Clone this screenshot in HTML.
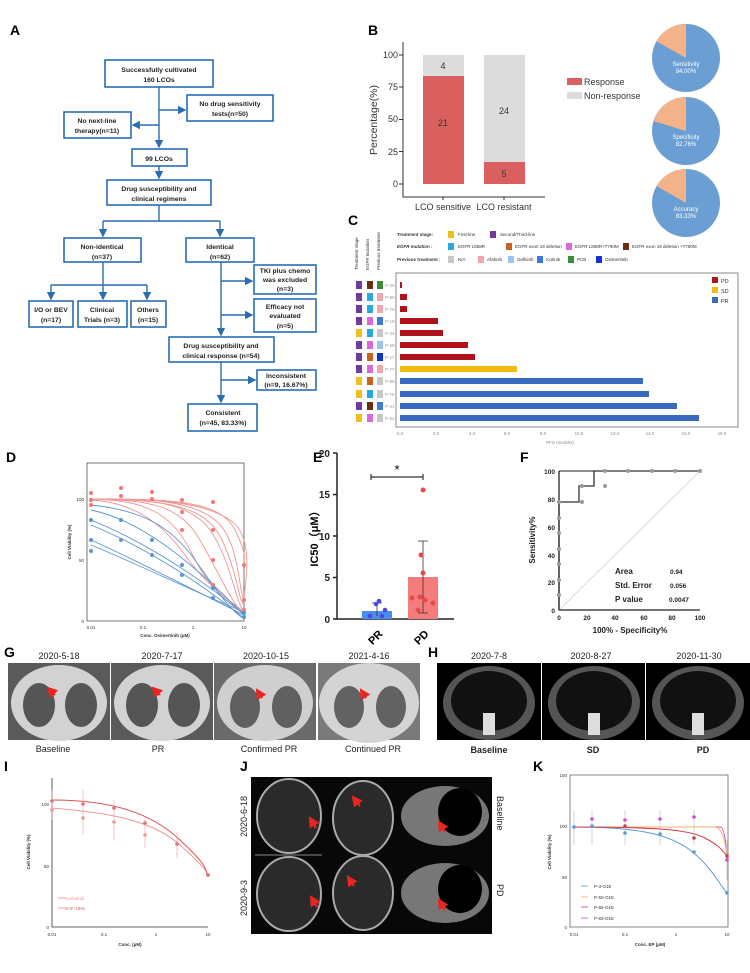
<!DOCTYPE html>
<html><head><meta charset="utf-8"><style>
body{margin:0;background:#fff}
svg{display:block;font-family:"Liberation Sans",Arial,sans-serif}
</style></head><body>
<svg width="750" height="973" viewBox="0 0 750 973" xmlns="http://www.w3.org/2000/svg">
<defs>
<marker id="ar" markerWidth="6" markerHeight="6" refX="5" refY="3" orient="auto"><path d="M0,0L6,3L0,6z" fill="#2a6db3"/></marker>
<marker id="ra" markerWidth="5" markerHeight="5" refX="4" refY="2.5" orient="auto"><path d="M0,0L5,2.5L0,5z" fill="#e8261f"/></marker>
</defs>
<g font-weight="bold" font-size="14">
<text x="10" y="35">A</text><text x="368" y="35">B</text><text x="348" y="225">C</text>
<text x="6" y="462">D</text><text x="313" y="462">E</text><text x="520" y="462">F</text>
<text x="4" y="657">G</text><text x="428" y="657">H</text>
<text x="4" y="771">I</text><text x="240" y="771">J</text><text x="533" y="771">K</text>
</g>

<!-- A flowchart -->
<g fill="#fff" stroke="#2a6db3" stroke-width="1.6">
<rect x="105" y="60" width="108" height="27"/><rect x="187" y="95" width="86" height="26"/>
<rect x="64" y="112" width="67" height="26"/><rect x="132" y="149" width="55" height="17"/>
<rect x="107" y="180" width="104" height="25"/><rect x="64" y="238" width="77" height="24"/>
<rect x="186" y="238" width="68" height="24"/><rect x="254" y="265" width="62" height="29"/>
<rect x="29" y="301" width="44" height="26"/><rect x="78" y="301" width="49" height="26"/>
<rect x="131" y="301" width="35" height="26"/><rect x="254" y="299" width="62" height="33"/>
<rect x="169" y="337" width="105" height="25"/><rect x="257" y="370" width="59" height="20"/>
<rect x="188" y="404" width="69" height="27"/>
</g>
<g stroke="#2a6db3" stroke-width="1.4" fill="none">
<path d="M159 87V147" marker-end="url(#ar)"/><path d="M159 110H185" marker-end="url(#ar)"/><path d="M159 125H133" marker-end="url(#ar)"/>
<path d="M159 166V178" marker-end="url(#ar)"/><path d="M159 205V221"/><path d="M103 221H220"/>
<path d="M103 221V236" marker-end="url(#ar)"/><path d="M220 221V236" marker-end="url(#ar)"/>
<path d="M103 262V285"/><path d="M51 285H147"/><path d="M51 285V299" marker-end="url(#ar)"/><path d="M103 285V299" marker-end="url(#ar)"/><path d="M147 285V299" marker-end="url(#ar)"/>
<path d="M221 262V335" marker-end="url(#ar)"/><path d="M221 281H252" marker-end="url(#ar)"/><path d="M221 315H252" marker-end="url(#ar)"/>
<path d="M221 362V402" marker-end="url(#ar)"/><path d="M221 380H255" marker-end="url(#ar)"/>
</g>
<g font-size="6.8" font-weight="bold" text-anchor="middle" fill="#222">
<text x="159" y="72">Successfully cultivated</text><text x="159" y="82">160 LCOs</text>
<text x="230" y="106">No drug sensitivity</text><text x="230" y="116">tests(n=50)</text>
<text x="97" y="123">No next-line</text><text x="97" y="133">therapy(n=11)</text>
<text x="159" y="161">99 LCOs</text>
<text x="159" y="191">Drug susceptibility and</text><text x="159" y="201">clinical regimens</text>
<text x="102" y="249">Non-identical</text><text x="102" y="259">(n=37)</text>
<text x="220" y="249">Identical</text><text x="220" y="259">(n=62)</text>
<text x="285" y="273">TKI plus chemo</text><text x="285" y="282">was excluded</text><text x="285" y="291">(n=3)</text>
<text x="51" y="312">I/O or BEV</text><text x="51" y="322">(n=17)</text>
<text x="102" y="312">Clinical</text><text x="102" y="322">Trials  (n=3)</text>
<text x="148" y="312">Others</text><text x="148" y="322">(n=15)</text>
<text x="285" y="309">Efficacy not</text><text x="285" y="318">evaluated</text><text x="285" y="328">(n=5)</text>
<text x="221" y="348">Drug susceptibility and</text><text x="221" y="358">clinical response (n=54)</text>
<text x="286" y="378">Inconsistent</text><text x="286" y="387">(n=9, 16.67%)</text>
<text x="223" y="415">Consistent</text><text x="223" y="425">(n=45, 83.33%)</text>
</g>

<!-- B bar chart -->
<g font-size="9" fill="#333">
<text transform="translate(377,120) rotate(-90)" text-anchor="middle" font-size="10.5">Percentage(%)</text>
<path d="M403 42V197H545" stroke="#333" fill="none"/>
<g text-anchor="end"><text x="398" y="187">0</text><text x="398" y="155">25</text><text x="398" y="122">50</text><text x="398" y="90">75</text><text x="398" y="58">100</text></g>
<path d="M399 184h4M399 151.5h4M399 119.5h4M399 87h4M399 55h4M443 197v3M504 197v3" stroke="#333"/>
<rect x="423" y="55" width="41" height="21" fill="#dcdcdc"/><rect x="423" y="76" width="41" height="108" fill="#d9605e"/>
<rect x="484" y="55" width="41" height="107" fill="#dcdcdc"/><rect x="484" y="162" width="41" height="22" fill="#d9605e"/>
<text x="443" y="69" text-anchor="middle">4</text><text x="443" y="126" text-anchor="middle">21</text>
<text x="504" y="114" text-anchor="middle">24</text><text x="504" y="177" text-anchor="middle">5</text>
<text x="443" y="210" text-anchor="middle">LCO sensitive</text><text x="504" y="210" text-anchor="middle">LCO resistant</text>
<rect x="567" y="78" width="15" height="7" fill="#d9605e"/><text x="584" y="85">Response</text>
<rect x="567" y="92" width="15" height="7" fill="#dcdcdc"/><text x="584" y="99">Non-response</text>
</g>
<g font-size="6" fill="#fff" text-anchor="middle">
<circle cx="686" cy="58" r="34" fill="#6b9fd4"/><path d="M686 58V24A34 34 0 0 0 656.4 41.3z" fill="#f3b287"/><text x="686" y="66">Sensitivity</text><text x="686" y="73">84.00%</text>
<circle cx="686" cy="131" r="34" fill="#6b9fd4"/><path d="M686 131V97A34 34 0 0 0 653.5 121z" fill="#f3b287"/><text x="686" y="139">Specificity</text><text x="686" y="146">82.76%</text>
<circle cx="686" cy="203" r="34" fill="#6b9fd4"/><path d="M686 203V169A34 34 0 0 0 656.6 186z" fill="#f3b287"/><text x="686" y="211">Accuracy</text><text x="686" y="218">83.33%</text>
</g>

<!-- C -->
<g font-size="4.5" fill="#333">
<text x="397" y="236" font-weight="bold">Treatment stage:</text>
<rect x="448" y="231" width="6" height="7" fill="#f2bd1e"/><text x="458" y="236">First-line</text>
<rect x="490" y="231" width="6" height="7" fill="#6f3aa3"/><text x="500" y="236">Second/Third-line</text>
<text x="397" y="248" font-weight="bold" font-style="italic">EGFR mutation :</text>
<rect x="448" y="243" width="6" height="7" fill="#29a9e0"/><text x="458" y="248">EGFR L858R</text>
<rect x="506" y="243" width="6" height="7" fill="#c8621c"/><text x="515" y="248">EGFR exon 19 deletion</text>
<rect x="566" y="243" width="6" height="7" fill="#dd66dd"/><text x="575" y="248">EGFR L858R+T790M</text>
<rect x="623" y="243" width="6" height="7" fill="#6a2e10"/><text x="632" y="248">EGFR exon 19 deletion +T790M</text>
<text x="397" y="261" font-weight="bold">Previous treatment :</text>
<rect x="448" y="256" width="6" height="7" fill="#c8c8c8"/><text x="458" y="261">N/A</text>
<rect x="478" y="256" width="6" height="7" fill="#f2a6ad"/><text x="487" y="261">Afatinib</text>
<rect x="508" y="256" width="6" height="7" fill="#9cc4ee"/><text x="517" y="261">Gefitinib</text>
<rect x="537" y="256" width="6" height="7" fill="#3d7bd8"/><text x="546" y="261">Icotinib</text>
<rect x="568" y="256" width="6" height="7" fill="#3f8a35"/><text x="577" y="261">PCB</text>
<rect x="596" y="256" width="6" height="7" fill="#1432d8"/><text x="605" y="261">Osimertinib</text>
<text transform="translate(358,270) rotate(-90)">Treatment stage</text>
<text transform="translate(369,270) rotate(-90)">EGFR mutation</text>
<text transform="translate(380,270) rotate(-90)">Previous treatment</text>
</g>
<rect x="396" y="273" width="342" height="154" fill="#fff" stroke="#888"/>
<g font-size="4.5" fill="#888" text-anchor="middle">
<text x="400" y="435">0.0</text><text x="436" y="435">2.0</text><text x="472" y="435">4.0</text><text x="507" y="435">6.0</text><text x="543" y="435">8.0</text><text x="579" y="435">10.0</text><text x="615" y="435">12.0</text><text x="650" y="435">14.0</text><text x="686" y="435">16.0</text><text x="722" y="435">18.0</text>
<text x="560" y="444">PFS (months)</text>
</g>
<g>
<g fill="#b0121b">
<rect x="400" y="282" width="2" height="6"/><rect x="400" y="294" width="7" height="6"/><rect x="400" y="306" width="7" height="6"/>
<rect x="400" y="318" width="38" height="6"/><rect x="400" y="330" width="43" height="6"/><rect x="400" y="342" width="68" height="6"/><rect x="400" y="354" width="75" height="6"/>
</g>
<rect x="400" y="366" width="117" height="6" fill="#f2b90f"/>
<g fill="#3a6ac0"><rect x="400" y="378" width="243" height="6"/><rect x="400" y="391" width="249" height="6"/><rect x="400" y="403" width="277" height="6"/><rect x="400" y="415" width="299" height="6"/></g>
</g>
<g font-size="5.5" fill="#333">
<rect x="712" y="277" width="6" height="6" fill="#b0121b"/><text x="721" y="283">PD</text>
<rect x="712" y="287" width="6" height="6" fill="#f2b90f"/><text x="721" y="293">SD</text>
<rect x="712" y="297" width="6" height="6" fill="#3a6ac0"/><text x="721" y="303">PR</text>
</g>
<g font-size="4.5" fill="#999">
<text x="385" y="287">P-30</text><text x="385" y="299">P-90</text><text x="385" y="311">P-70</text><text x="385" y="323">P-18</text><text x="385" y="335">P-34</text><text x="385" y="347">P-59</text><text x="385" y="359">P-17</text><text x="385" y="371">P-77</text><text x="385" y="383">P-89</text><text x="385" y="396">P-76</text><text x="385" y="408">P-41</text><text x="385" y="420">P-52</text>
</g>
<g>
<g><rect x="356" y="281" width="6" height="8" fill="#6f3aa3"/><rect x="367" y="281" width="6" height="8" fill="#6a2e10"/><rect x="377" y="281" width="6" height="8" fill="#3f8a35"/></g>
<g><rect x="356" y="293" width="6" height="8" fill="#6f3aa3"/><rect x="367" y="293" width="6" height="8" fill="#29a9e0"/><rect x="377" y="293" width="6" height="8" fill="#f2a6ad"/></g>
<g><rect x="356" y="305" width="6" height="8" fill="#6f3aa3"/><rect x="367" y="305" width="6" height="8" fill="#29a9e0"/><rect x="377" y="305" width="6" height="8" fill="#f2a6ad"/></g>
<g><rect x="356" y="317" width="6" height="8" fill="#6f3aa3"/><rect x="367" y="317" width="6" height="8" fill="#dd66dd"/><rect x="377" y="317" width="6" height="8" fill="#3d7bd8"/></g>
<g><rect x="356" y="329" width="6" height="8" fill="#f2bd1e"/><rect x="367" y="329" width="6" height="8" fill="#29a9e0"/><rect x="377" y="329" width="6" height="8" fill="#c8c8c8"/></g>
<g><rect x="356" y="341" width="6" height="8" fill="#6f3aa3"/><rect x="367" y="341" width="6" height="8" fill="#dd66dd"/><rect x="377" y="341" width="6" height="8" fill="#9cc4ee"/></g>
<g><rect x="356" y="353" width="6" height="8" fill="#6f3aa3"/><rect x="367" y="353" width="6" height="8" fill="#c8621c"/><rect x="377" y="353" width="6" height="8" fill="#1432d8"/></g>
<g><rect x="356" y="365" width="6" height="8" fill="#6f3aa3"/><rect x="367" y="365" width="6" height="8" fill="#dd66dd"/><rect x="377" y="365" width="6" height="8" fill="#f2a6ad"/></g>
<g><rect x="356" y="377" width="6" height="8" fill="#f2bd1e"/><rect x="367" y="377" width="6" height="8" fill="#c8621c"/><rect x="377" y="377" width="6" height="8" fill="#c8c8c8"/></g>
<g><rect x="356" y="390" width="6" height="8" fill="#f2bd1e"/><rect x="367" y="390" width="6" height="8" fill="#29a9e0"/><rect x="377" y="390" width="6" height="8" fill="#c8c8c8"/></g>
<g><rect x="356" y="402" width="6" height="8" fill="#6f3aa3"/><rect x="367" y="402" width="6" height="8" fill="#6a2e10"/><rect x="377" y="402" width="6" height="8" fill="#3d7bd8"/></g>
<g><rect x="356" y="414" width="6" height="8" fill="#f2bd1e"/><rect x="367" y="414" width="6" height="8" fill="#dd66dd"/><rect x="377" y="414" width="6" height="8" fill="#c8c8c8"/></g>
</g>

<!-- D -->
<rect x="87" y="463" width="157" height="158" fill="none" stroke="#555" stroke-width="0.8"/>
<g font-size="4.5" fill="#333">
<text x="84" y="501" text-anchor="end">100</text><text x="84" y="562" text-anchor="end">50</text><text x="84" y="623" text-anchor="end">0</text>
<text x="91" y="629" text-anchor="middle">0.01</text><text x="143" y="629" text-anchor="middle">0.1</text><text x="193" y="629" text-anchor="middle">1</text><text x="244" y="629" text-anchor="middle">10</text>
<text x="165" y="637" text-anchor="middle" font-weight="bold">Conc. Osimertinib (μM)</text>
<text transform="translate(71,542) rotate(-90)" text-anchor="middle" font-weight="bold">Cell Viability (%)</text>
</g>
<g fill="none" stroke="#f09494" stroke-width="0.9">
<path d="M91 499C150 499 200 500 230 520S240 600 244 610"/><path d="M91 499C150 499 190 502 210 530S235 600 244 612"/>
<path d="M91 499C150 500 180 505 200 540S230 600 244 615"/><path d="M91 499C140 500 170 510 190 550S225 600 244 614"/>
<path d="M91 499C170 499 220 500 235 530S242 560 244 563"/><path d="M91 499C150 499 190 500 215 520S238 590 244 600"/>
<path d="M91 500C130 502 160 520 185 555S230 600 244 612"/><path d="M91 499C160 500 205 503 222 540S238 600 244 605"/>
</g>
<g fill="none" stroke="#5b95d0" stroke-width="0.9">
<path d="M91 510C140 520 190 560 244 615"/><path d="M91 525C140 545 190 575 244 618"/><path d="M91 545C140 565 190 590 244 612"/>
<path d="M91 540C140 562 190 588 244 615"/><path d="M91 505C140 510 170 525 195 560S230 610 244 619"/><path d="M91 520C140 540 190 570 244 614"/>
</g>
<g fill="#f07878"><circle cx="91" cy="500" r="2"/><circle cx="91" cy="493" r="2"/><circle cx="91" cy="505" r="2"/><circle cx="121" cy="496" r="2"/><circle cx="121" cy="488" r="2"/><circle cx="152" cy="499" r="2"/><circle cx="152" cy="492" r="2"/><circle cx="182" cy="500" r="2"/><circle cx="182" cy="512" r="2"/><circle cx="182" cy="530" r="2"/><circle cx="213" cy="502" r="2"/><circle cx="213" cy="530" r="2"/><circle cx="213" cy="560" r="2"/><circle cx="213" cy="585" r="2"/><circle cx="244" cy="565" r="2"/><circle cx="244" cy="600" r="2"/><circle cx="244" cy="610" r="2"/></g>
<g fill="#5b95d0"><circle cx="91" cy="520" r="2"/><circle cx="91" cy="540" r="2"/><circle cx="91" cy="551" r="2"/><circle cx="121" cy="520" r="2"/><circle cx="121" cy="540" r="2"/><circle cx="152" cy="540" r="2"/><circle cx="152" cy="555" r="2"/><circle cx="182" cy="565" r="2"/><circle cx="182" cy="575" r="2"/><circle cx="213" cy="588" r="2"/><circle cx="213" cy="598" r="2"/><circle cx="244" cy="613" r="2"/><circle cx="244" cy="617" r="2"/></g>

<!-- E -->
<g stroke="#222" stroke-width="1.5" fill="none"><path d="M337 453V619H454"/><path d="M333 453h4M333 494.5h4M333 536h4M333 577.5h4M333 619h4"/></g>
<g font-size="10" font-weight="bold" text-anchor="end" fill="#222"><text x="330" y="457">20</text><text x="330" y="498">15</text><text x="330" y="540">10</text><text x="330" y="581">5</text><text x="330" y="623">0</text></g>
<text transform="translate(318,536) rotate(-90)" text-anchor="middle" font-size="11" font-weight="bold">IC50（μM）</text>
<rect x="362" y="611" width="30" height="8" fill="#4a8cf0"/><rect x="408" y="577" width="30" height="42" fill="#f47c7c"/>
<g stroke="#333" stroke-width="0.8"><path d="M377 603V616M372 603h10M423 541V613M418 541h10M418 613h10"/><path d="M371 477H423M371 474v6M423 474v6" stroke-width="1.2"/></g>
<text x="397" y="474" font-size="13" text-anchor="middle">*</text>
<g fill="#4a4ae0"><circle cx="370" cy="616" r="2.3"/><circle cx="376" cy="604" r="2.3"/><circle cx="379" cy="601" r="2.3"/><circle cx="382" cy="616" r="2.3"/><circle cx="385" cy="610" r="2.3"/></g>
<g fill="#e84848"><circle cx="423" cy="490" r="2.5"/><circle cx="421" cy="555" r="2.5"/><circle cx="423" cy="573" r="2.5"/><circle cx="420" cy="597" r="2.5"/><circle cx="425" cy="600" r="2.5"/><circle cx="412" cy="598" r="2.5"/><circle cx="433" cy="603" r="2.5"/><circle cx="418" cy="610" r="2.5"/></g>
<g font-size="11" font-weight="bold"><text transform="translate(378,640) rotate(-45)" text-anchor="middle">PR</text><text transform="translate(424,640) rotate(-45)" text-anchor="middle">PD</text></g>

<!-- F -->
<g stroke="#222" stroke-width="1.3" fill="none"><path d="M559 471V610H700"/><path d="M559 471H700" stroke-width="1"/></g>
<path d="M559 610L700 471" stroke="#ccc" stroke-width="0.7"/>
<path d="M559 610V502H579V486H594V471H700" fill="none" stroke="#333" stroke-width="1.3"/>
<g fill="#999"><circle cx="559" cy="595" r="2"/><circle cx="559" cy="580" r="2"/><circle cx="559" cy="564" r="2"/><circle cx="559" cy="549" r="2"/><circle cx="559" cy="533" r="2"/><circle cx="559" cy="518" r="2"/><circle cx="559" cy="502" r="2"/><circle cx="582" cy="502" r="2"/><circle cx="582" cy="486" r="2"/><circle cx="605" cy="486" r="2"/><circle cx="605" cy="471" r="2"/><circle cx="628" cy="471" r="2"/><circle cx="652" cy="471" r="2"/><circle cx="675" cy="471" r="2"/><circle cx="700" cy="471" r="2"/></g>
<g font-size="6.5" font-weight="bold" fill="#222">
<g text-anchor="end"><text x="555" y="474">100</text><text x="555" y="502">80</text><text x="555" y="530">60</text><text x="555" y="558">40</text><text x="555" y="585">20</text><text x="555" y="613">0</text></g>
<g text-anchor="middle"><text x="559" y="620">0</text><text x="587" y="620">20</text><text x="615" y="620">40</text><text x="644" y="620">60</text><text x="672" y="620">80</text><text x="700" y="620">100</text>
<text x="630" y="633" font-size="8">100% - Specificity%</text></g>
<text transform="translate(535,540) rotate(-90)" text-anchor="middle" font-size="8">Sensitivity%</text>
<text x="615" y="574" font-size="8">Area</text><text x="615" y="588" font-size="8">Std. Error</text><text x="615" y="602" font-size="8">P value</text>
<text x="670" y="574">0.94</text><text x="670" y="588">0.056</text><text x="669" y="602">0.0047</text>
</g>

<!-- G -->
<g font-size="9" text-anchor="middle" fill="#222">
<text x="59" y="659">2020-5-18</text><text x="162" y="659">2020-7-17</text><text x="266" y="659">2020-10-15</text><text x="369" y="659">2021-4-16</text>
<text x="53" y="752">Baseline</text><text x="158" y="752">PR</text><text x="269" y="752">Confirmed PR</text><text x="373" y="752">Continued PR</text>
<text x="489" y="659">2020-7-8</text><text x="591" y="659">2020-8-27</text><text x="699" y="659">2020-11-30</text>
<text x="489" y="753" font-weight="bold">Baseline</text><text x="593" y="753" font-weight="bold">SD</text><text x="703" y="753" font-weight="bold">PD</text>
</g>
<g>
<g transform="translate(8,663)"><rect width="102" height="77" fill="#5a5a5a"/><ellipse cx="51" cy="40" rx="48" ry="38" fill="#d2d2d2"/><ellipse cx="31" cy="42" rx="16" ry="22" fill="#555"/><ellipse cx="73" cy="42" rx="16" ry="22" fill="#555"/></g>
<g transform="translate(111,663)"><rect width="102" height="77" fill="#5a5a5a"/><ellipse cx="51" cy="40" rx="48" ry="38" fill="#d2d2d2"/><ellipse cx="31" cy="42" rx="16" ry="22" fill="#555"/><ellipse cx="73" cy="42" rx="16" ry="22" fill="#555"/></g>
<g transform="translate(214,663)"><rect width="102" height="77" fill="#6a6a6a"/><ellipse cx="51" cy="40" rx="48" ry="38" fill="#cfcfcf"/><ellipse cx="31" cy="44" rx="15" ry="21" fill="#606060"/><ellipse cx="73" cy="44" rx="15" ry="21" fill="#606060"/></g>
<g transform="translate(318,663)"><rect width="102" height="77" fill="#7a7a7a"/><ellipse cx="51" cy="40" rx="50" ry="40" fill="#d4d4d4"/><ellipse cx="31" cy="44" rx="15" ry="21" fill="#626262"/><ellipse cx="73" cy="44" rx="15" ry="21" fill="#626262"/></g>
</g>
<g stroke="#e8261f" stroke-width="2.2" marker-end="url(#ra)">
<path d="M55 695L48 688"/><path d="M160 695L153 688"/><path d="M262 698L257 690"/><path d="M366 698L361 690"/>
<path d="M489 702L484 692"/><path d="M593 702L588 692"/><path d="M701 704L697 694"/>
</g>
<g>
<g transform="translate(437,663)"><rect width="104" height="77" fill="#000"/><ellipse cx="52" cy="40" rx="46" ry="37" fill="#555"/><ellipse cx="52" cy="38" rx="38" ry="30" fill="#111"/><rect x="46" y="50" width="12" height="22" fill="#ddd"/></g>
<g transform="translate(542,663)"><rect width="103" height="77" fill="#000"/><ellipse cx="52" cy="40" rx="46" ry="37" fill="#555"/><ellipse cx="52" cy="38" rx="38" ry="30" fill="#111"/><rect x="46" y="50" width="12" height="22" fill="#ddd"/></g>
<g transform="translate(646,663)"><rect width="104" height="77" fill="#000"/><ellipse cx="52" cy="40" rx="46" ry="37" fill="#555"/><ellipse cx="52" cy="38" rx="38" ry="30" fill="#111"/><rect x="46" y="50" width="12" height="22" fill="#ddd"/></g>
</g>

<!-- I -->
<path d="M52 778V927H208" fill="none" stroke="#333" stroke-width="0.8"/>
<g font-size="4.5" fill="#333" text-anchor="middle">
<text x="49" y="806" text-anchor="end">100</text><text x="49" y="868" text-anchor="end">50</text><text x="49" y="929" text-anchor="end">0</text>
<text x="52" y="936">0.01</text><text x="104" y="936">0.1</text><text x="156" y="936">1</text><text x="208" y="936">10</text>
<text x="130" y="946" font-weight="bold">Conc. (μM)</text>
<text transform="translate(30,852) rotate(-90)" font-weight="bold">Cell Viability (%)</text>
<text x="75" y="900" fill="#e99">Lorlatinib</text><text x="75" y="910" fill="#d66">SAF-189s</text>
</g>
<path d="M58 898h8M58 908h8" stroke="#e88" stroke-width="0.8"/>
<path d="M52 808C100 812 150 818 180 845S204 870 208 874" stroke="#e99" fill="none"/>
<path d="M52 800C110 800 150 812 180 840S204 868 208 876" stroke="#d55" fill="none"/>
<g fill="#d66"><circle cx="52" cy="801" r="1.8"/><circle cx="83" cy="804" r="1.8"/><circle cx="114" cy="808" r="1.8"/><circle cx="145" cy="823" r="1.8"/><circle cx="177" cy="844" r="1.8"/><circle cx="208" cy="875" r="1.8"/><circle cx="52" cy="810" r="1.8" fill="#e99"/><circle cx="83" cy="818" r="1.8" fill="#e99"/><circle cx="114" cy="822" r="1.8" fill="#e99"/><circle cx="145" cy="835" r="1.8" fill="#e99"/></g>
<g stroke="#e99" stroke-width="0.6"><path d="M52 790V820M83 790V834M114 800V840M145 818V848M177 832V858"/></g>

<!-- J -->
<rect x="251" y="777" width="241" height="157" fill="#080808"/>
<g fill="none" stroke="#aaa" stroke-width="2">
<ellipse cx="289" cy="816" rx="32" ry="37" fill="#2a2a2a"/><ellipse cx="289" cy="894" rx="32" ry="37" fill="#2a2a2a"/>
<ellipse cx="363" cy="818" rx="30" ry="37" fill="#2a2a2a"/><ellipse cx="363" cy="893" rx="30" ry="37" fill="#2a2a2a"/>
</g>
<line x1="255" y1="855" x2="322" y2="855" stroke="#888"/>
<g fill="#777"><ellipse cx="445" cy="816" rx="44" ry="30"/><ellipse cx="445" cy="893" rx="44" ry="30"/></g>
<g fill="#000"><ellipse cx="460" cy="812" rx="22" ry="24"/><ellipse cx="460" cy="889" rx="22" ry="24"/></g>
<g stroke="#e8261f" stroke-width="2.2" marker-end="url(#ra)">
<path d="M316 828L310 818"/><path d="M360 806L353 797"/><path d="M445 832L439 822"/>
<path d="M317 907L311 897"/><path d="M354 886L348 877"/><path d="M445 910L439 900"/>
</g>
<g font-size="9" fill="#222">
<text transform="translate(247,837) rotate(-90)">2020-6-18</text><text transform="translate(247,916) rotate(-90)">2020-9-3</text>
<text transform="translate(497,796) rotate(90)">Baseline</text><text transform="translate(497,884) rotate(90)">PD</text>
</g>

<!-- K -->
<rect x="570" y="775" width="158" height="152" fill="none" stroke="#555" stroke-width="0.7"/>
<g font-size="4.5" fill="#333" text-anchor="middle">
<text x="567" y="777" text-anchor="end">150</text><text x="567" y="828" text-anchor="end">100</text><text x="567" y="879" text-anchor="end">50</text><text x="567" y="929" text-anchor="end">0</text>
<text x="574" y="936">0.01</text><text x="625" y="936">0.1</text><text x="676" y="936">1</text><text x="727" y="936">10</text>
<text x="650" y="946" font-weight="bold">Conc. EP (μM)</text>
<text transform="translate(551,852) rotate(-90)" font-weight="bold">Cell Viability (%)</text>
<text x="594" y="888" text-anchor="start">P-3-O1E</text><text x="594" y="899" text-anchor="start">P-50-O1E</text><text x="594" y="909" text-anchor="start">P-65-O1E</text><text x="594" y="920" text-anchor="start">P-83-O1E</text>
</g>
<g stroke-width="0.8"><path d="M581 886h7" stroke="#5b9ad8"/><path d="M581 897h7" stroke="#f0b070"/><path d="M581 907h7" stroke="#d0404a"/><path d="M581 918h7" stroke="#d04ed0"/></g>
<path d="M574 827C640 827 670 835 690 850S720 885 727 893" stroke="#5b9ad8" fill="none"/>
<path d="M574 827H720C724 827 726 840 727 860" stroke="#d04ed0" fill="none"/>
<path d="M574 827H715C722 828 725 840 727 855" stroke="#f0b070" fill="none"/>
<path d="M574 827C660 827 690 830 705 838S722 850 727 856" stroke="#d0404a" fill="none"/>
<g stroke="#bbb" stroke-width="0.6"><path d="M574 810V845M592 810V845M625 810V845M660 810V845M694 810V845M727 840V880"/></g>
<g><circle cx="574" cy="827" r="1.8" fill="#5b9ad8"/><circle cx="592" cy="826" r="1.8" fill="#5b9ad8"/><circle cx="625" cy="833" r="1.8" fill="#5b9ad8"/><circle cx="660" cy="834" r="1.8" fill="#5b9ad8"/><circle cx="694" cy="852" r="1.8" fill="#5b9ad8"/><circle cx="727" cy="893" r="1.8" fill="#5b9ad8"/>
<circle cx="592" cy="819" r="1.8" fill="#d04ed0"/><circle cx="625" cy="820" r="1.8" fill="#d04ed0"/><circle cx="660" cy="819" r="1.8" fill="#d04ed0"/><circle cx="694" cy="817" r="1.8" fill="#d04ed0"/><circle cx="727" cy="860" r="1.8" fill="#d04ed0"/>
<circle cx="625" cy="826" r="1.8" fill="#d0404a"/><circle cx="694" cy="838" r="1.8" fill="#d0404a"/><circle cx="727" cy="856" r="1.8" fill="#d0404a"/></g>
</svg>
</body></html>
